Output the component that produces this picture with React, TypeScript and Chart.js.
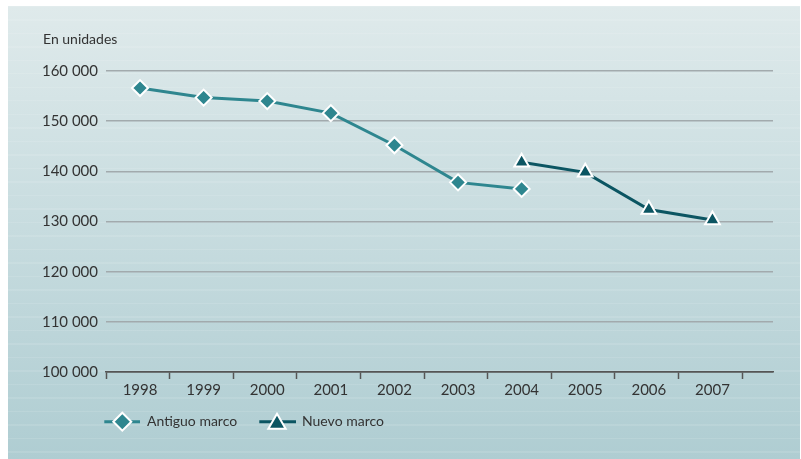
import React, { useEffect, useRef } from "react";
import { Chart, registerables } from "chart.js";

Chart.register(...registerables);

const years = [1998, 1999, 2000, 2001, 2002, 2003, 2004, 2005, 2006, 2007];
const antiguoMarco = [156600, 154700, 154000, 151600, 145200, 137800, 136500, null, null, null];
const nuevoMarco = [null, null, null, null, null, null, 141800, 139800, 132400, 130300];
const seriesNames = ["Antiguo marco", "Nuevo marco"];
const yTitle = "En unidades";
const yMin = 100000;
const yMax = 160000;
const yStep = 10000;

const COL_OLD = "#2e868f";
const COL_NEW = "#0b5562";
const TEXT = "#333333";
const FONT = "Lato, 'Noto Sans', sans-serif";

const X_MIN = 1997.465;
const X_MAX = 2007.952;

function fmt(v: number): string {
  return String(v).replace(/\B(?=(\d{3})+(?!\d))/g, " ");
}

function toPoints(vals: (number | null)[]) {
  const out: { x: number; y: number }[] = [];
  vals.forEach((v, i) => {
    if (v !== null) out.push({ x: years[i], y: v });
  });
  return out;
}

function diamond(ctx: CanvasRenderingContext2D, x: number, y: number, r: number, fill: string) {
  ctx.beginPath();
  ctx.moveTo(x, y - r);
  ctx.lineTo(x + r, y);
  ctx.lineTo(x, y + r);
  ctx.lineTo(x - r, y);
  ctx.closePath();
  ctx.fillStyle = fill;
  ctx.fill();
  ctx.lineWidth = 2;
  ctx.strokeStyle = "#ffffff";
  ctx.stroke();
}

function triangle(ctx: CanvasRenderingContext2D, x: number, y: number, r: number, fill: string) {
  ctx.beginPath();
  ctx.moveTo(x, y - r);
  ctx.lineTo(x + r * Math.sin((2 * Math.PI) / 3), y + r / 2);
  ctx.lineTo(x - r * Math.sin((2 * Math.PI) / 3), y + r / 2);
  ctx.closePath();
  ctx.fillStyle = fill;
  ctx.fill();
  ctx.lineWidth = 2;
  ctx.strokeStyle = "#ffffff";
  ctx.stroke();
}

const extrasPlugin = {
  id: "extras",
  afterDraw(chart: any) {
    const ctx: CanvasRenderingContext2D = chart.ctx;
    const left = chart.chartArea.left;
    ctx.save();
    // y title
    ctx.font = `14px ${FONT}`;
    ctx.fillStyle = TEXT;
    ctx.textAlign = "left";
    ctx.textBaseline = "alphabetic";
    ctx.fillText(yTitle, left - 63, 37.5);

    // legend
    const ly = 415.7;
    ctx.lineCap = "butt";
    // item 1
    ctx.strokeStyle = COL_OLD;
    ctx.lineWidth = 3;
    ctx.beginPath();
    ctx.moveTo(left - 1.7, ly);
    ctx.lineTo(left + 34, ly);
    ctx.stroke();
    diamond(ctx, left + 16.3, ly, 9, COL_OLD);
    ctx.fillStyle = TEXT;
    ctx.font = `14px ${FONT}`;
    ctx.textBaseline = "middle";
    ctx.fillText(seriesNames[0], left + 41, ly);
    // item 2
    ctx.strokeStyle = COL_NEW;
    ctx.lineWidth = 3;
    ctx.beginPath();
    ctx.moveTo(left + 153.3, ly);
    ctx.lineTo(left + 190, ly);
    ctx.stroke();
    triangle(ctx, left + 171, ly + 2, 10, COL_NEW);
    ctx.fillStyle = TEXT;
    ctx.fillText(seriesNames[1], left + 196, ly);
    ctx.restore();
  },
};

export default function App() {
  const ref = useRef<HTMLCanvasElement | null>(null);

  useEffect(() => {
    if (!ref.current) return;
    const tickVals: number[] = [];
    for (let k = 0; k <= 10; k++) tickVals.push(X_MIN + k);
    years.forEach((y) => tickVals.push(y));
    tickVals.sort((a, b) => a - b);

    const chart = new Chart(ref.current, {
      type: "line",
      data: {
        datasets: [
          {
            label: seriesNames[0],
            data: toPoints(antiguoMarco),
            borderColor: COL_OLD,
            backgroundColor: COL_OLD,
            borderWidth: 3,
            pointStyle: "rectRot",
            pointRadius: 8,
            pointBorderColor: "#ffffff",
            pointBackgroundColor: COL_OLD,
            pointBorderWidth: 2,
            tension: 0,
          },
          {
            label: seriesNames[1],
            data: toPoints(nuevoMarco),
            borderColor: COL_NEW,
            backgroundColor: COL_NEW,
            borderWidth: 3,
            pointStyle: "triangle",
            pointRadius: 8.5,
            pointBorderColor: "#ffffff",
            pointBackgroundColor: COL_NEW,
            pointBorderWidth: 2,
            tension: 0,
          },
        ],
      },
      options: {
        animation: false,
        responsive: false,
        devicePixelRatio: 1,
        layout: { padding: { left: 35, right: 27, top: 65, bottom: 0 } },
        plugins: {
          legend: { display: false },
          tooltip: { enabled: false },
          title: { display: false },
        },
        scales: {
          x: {
            type: "linear",
            min: X_MIN,
            max: X_MAX,
            afterBuildTicks: (s: any) => {
              s.ticks = tickVals.map((v) => ({ value: v }));
            },
            afterFit: (s: any) => {
              s.height = 87;
            },
            ticks: {
              autoSkip: false,
              maxRotation: 0,
              minRotation: 0,
              padding: 2,
              color: TEXT,
              font: { family: FONT, size: 15 },
              callback: (v: any) => (Number.isInteger(v) ? String(v) : ""),
            },
            grid: {
              drawOnChartArea: false,
              drawTicks: true,
              tickLength: 7,
              tickWidth: 1.5,
              color: (c: any) => (c.tick && Number.isInteger(c.tick.value) ? "rgba(0,0,0,0)" : "#555555"),
              tickColor: (c: any) => (c.tick && Number.isInteger(c.tick.value) ? "rgba(0,0,0,0)" : "#555555"),
            },
            border: { display: true, color: "#555555", width: 1.5 },
          },
          y: {
            min: yMin,
            max: yMax,
            afterFit: (s: any) => {
              s.width = 63;
            },
            ticks: {
              stepSize: yStep,
              padding: 8,
              color: TEXT,
              font: { family: FONT, size: 15 },
              callback: (v: any) => fmt(Number(v)),
            },
            grid: {
              drawTicks: false,
              lineWidth: 1.5,
              color: (c: any) => (c.tick && c.tick.value === yMin ? "#555555" : "#a2aaad"),
            },
            border: { display: false },
          },
        },
      },
      plugins: [extrasPlugin],
    });
    return () => chart.destroy();
  }, []);

  return (
    <div
      style={{
        position: "absolute",
        left: 8,
        top: 6,
        width: 792,
        height: 453,
        background:
          "repeating-linear-gradient(to bottom, rgba(255,255,255,0.10) 0px, rgba(255,255,255,0.10) 1px, rgba(255,255,255,0) 1px, rgba(255,255,255,0) 13.5px), linear-gradient(to bottom, #dfeaeb 0%, #c9dde0 45%, #afcdd2 100%)",
      }}
    >
      <canvas ref={ref} width={792} height={453} style={{ display: "block" }} />
    </div>
  );
}
